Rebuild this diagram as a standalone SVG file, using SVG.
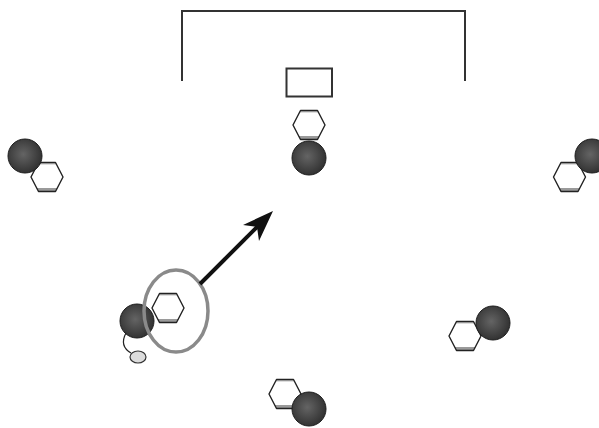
<svg xmlns="http://www.w3.org/2000/svg" width="599" height="428" viewBox="0 0 599 428">
  <defs>
    <radialGradient id="bodyShade" cx="0.45" cy="0.45" r="0.6">
      <stop offset="0" stop-color="#646464"/>
      <stop offset="1" stop-color="#2e2e2e"/>
    </radialGradient>
    <!-- hexagon "shoulders" piece with shaded top and bottom rims -->
    <g id="hex">
      <polygon points="-16,0 -8.5,-14.5 8.5,-14.5 16,0 8.5,14.5 -8.5,14.5" fill="#fff"/>
      <polygon points="-8.5,-14.5 8.5,-14.5 9.6,-12.4 -9.6,-12.4" fill="#bdbdbd"/>
      <polygon points="-10.3,11 10.3,11 8.5,14.5 -8.5,14.5" fill="#9a9a9a"/>
      <polygon points="-16,0 -8.5,-14.5 8.5,-14.5 16,0 8.5,14.5 -8.5,14.5" fill="none" stroke="#222" stroke-width="1.4" stroke-linejoin="round"/>
    </g>
    <circle id="head" r="17" fill="url(#bodyShade)" stroke="#1e1e1e" stroke-width="1"/>
  </defs>
  <style>
    .field { fill: none; stroke: #333; stroke-width: 2; }
  </style>

  <rect width="599" height="428" fill="#fff"/>

  <!-- goal area -->
  <g id="goal">
    <polyline class="field" points="182,81 182,11 465,11 465,81"/>
    <rect class="field" x="286.5" y="68.5" width="45.5" height="28" stroke-width="1.6"/>
  </g>

  <g id="keeper">
    <use href="#hex" transform="translate(309,125)"/>
    <use href="#head" x="309" y="158"/>
  </g>

  <g id="left-wing">
    <use href="#hex" transform="translate(47,177)"/>
    <use href="#head" x="25" y="156"/>
  </g>

  <g id="right-wing">
    <use href="#hex" transform="translate(569.5,177)"/>
    <use href="#head" x="592" y="156"/>
  </g>

  <g id="ball-carrier">
    <use href="#head" x="137" y="321"/>
    <use href="#hex" transform="translate(168,308)"/>
    <ellipse cx="176" cy="311" rx="32" ry="41" fill="none" stroke="#8a8a8a" stroke-width="3.5"/>
  </g>

  <g id="ball">
    <ellipse cx="138" cy="357" rx="8" ry="6" fill="#dcdcdc" stroke="#333" stroke-width="1.2"/>
  </g>

  <g id="right-back">
    <use href="#hex" transform="translate(465,336)"/>
    <use href="#head" x="493" y="323"/>
  </g>

  <g id="center-back">
    <use href="#hex" transform="translate(285,394)"/>
    <use href="#head" x="309" y="409"/>
  </g>

  <g id="connectors">
    <path d="M126,333 Q119,346 131,353" fill="none" stroke="#222" stroke-width="1.2"/>
    <line x1="200" y1="284" x2="259" y2="225" stroke="#111" stroke-width="4"/>
    <polygon points="273,211 243,225 257,227 259,241" fill="#111"/>
  </g>
</svg>
